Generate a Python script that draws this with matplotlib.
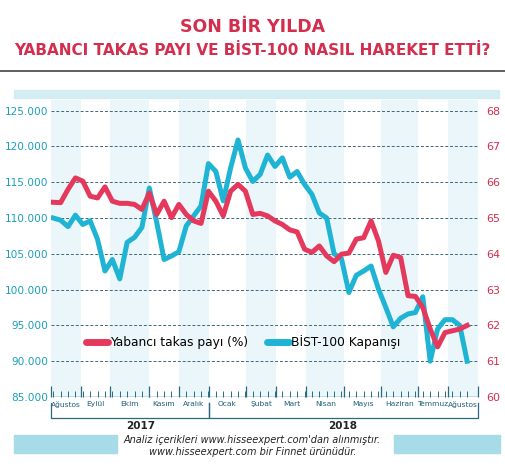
import matplotlib
matplotlib.use("Agg")
import matplotlib.pyplot as plt
import numpy as np
from matplotlib.lines import Line2D

plt.rcParams["font.family"] = ["DejaVu Sans"]

bist = [110000,109700,108800,110400,109100,109600,107000,102600,104200,101500,106600,107300,108700,114200,
        109400,104200,104700,105300,108900,110300,111700,117600,116500,112400,117000,120900,117000,115100,
        116100,118800,117200,118400,115700,116500,114700,113300,110700,110000,105000,104300,99600,102000,
        102600,103300,100100,97500,94800,96000,96600,96800,99000,90000,94500,95800,95800,95000,90000]
takas = [65.44,65.43,65.80,66.12,66.03,65.61,65.56,65.87,65.47,65.41,65.41,65.38,65.24,65.70,65.10,65.47,
         65.01,65.38,65.10,64.92,64.85,65.75,65.47,65.06,65.75,65.94,65.75,65.10,65.13,65.06,64.92,64.82,
         64.67,64.61,64.13,64.04,64.22,63.94,63.78,63.99,64.02,64.41,64.45,64.92,64.36,63.48,63.96,63.90,
         62.83,62.81,62.5,61.9,61.4,61.8,61.85,61.9,62.0]
months = ["Ağustos","Eylül","Ekim","Kasım","Aralık","Ocak","Şubat","Mart","Nisan","Mayıs","Haziran","Temmuz","Ağustos"]
month_bounds = [-0.3,3.74,7.66,12.93,17.0,21.05,26.1,30.2,34.25,39.4,44.4,49.3,53.4,57.5]
years = ["2017","2018"]
left_ticks = [85000,90000,95000,100000,105000,110000,115000,120000,125000]
right_ticks = [60,61,62,63,64,65,66,67,68]

BLUE = "#20b4d4"; RED = "#e4395c"; TEAL = "#1b9fba"; DRED = "#d42e4e"
n = len(bist)
x = np.arange(n)

fig = plt.figure(figsize=(5.05,4.69), dpi=100)
fig.patch.set_facecolor("white")
fig.text(0.5, 0.942, "SON BİR YILDA", ha="center", va="center", color=DRED, fontsize=12.5, fontweight="bold")
fig.text(0.5, 0.893, "YABANCI TAKAS PAYI VE BİST-100 NASIL HAREKET ETTİ?", ha="center", va="center",
         color=DRED, fontsize=11, fontweight="bold")
fig.add_artist(Line2D([0,1],[0.848,0.848], color="#444444", lw=1.2, transform=fig.transFigure))
fig.patches.append(plt.Rectangle((0.027,0.792),0.962,0.016, transform=fig.transFigure, color="#d4edf3", zorder=0))

ax = fig.add_axes([0.101,0.1535,0.846,0.6335])
ax.set_xlim(-0.3,57.5)
ax.set_ylim(85000,126500)
for i in range(0,len(month_bounds)-1,2):
    ax.axvspan(month_bounds[i], month_bounds[i+1], color="#eaf6fa", zorder=0, lw=0)
for t in left_ticks[1:]:
    ax.axhline(t, color="#3a6a7a", ls=(0,(3,2)), lw=0.7, zorder=1)
ax2 = ax.twinx()
ax2.set_ylim(60, 60+(126500-85000)/5000)
ax.plot(x, bist, color=BLUE, lw=3.6, zorder=3)
ax2.plot(x, takas, color=RED, lw=3.6, zorder=3)
for a in (ax, ax2):
    for s in a.spines.values(): s.set_visible(False)
ax.set_yticks(left_ticks)
ax.set_yticklabels([f"{v:,}".replace(",", ".") for v in left_ticks], color=TEAL, fontsize=7.6)
ax2.set_yticks(right_ticks)
ax2.set_yticklabels([str(v) for v in right_ticks], color=DRED, fontsize=8)
ax.tick_params(axis="y", length=0, pad=2)
ax2.tick_params(axis="y", length=0, pad=6)
ax.set_xticks(month_bounds)
ax.set_xticklabels([])
ax.set_xticks(x, minor=True)
ax.tick_params(axis="x", which="major", length=8, color="#2a6a80", direction="in", width=0.9)
ax.tick_params(axis="x", which="minor", length=4, color="#2a6a80", direction="in", width=0.7)
ax.axhline(85000, color="#2a6a80", lw=1, zorder=2)
for i, m in enumerate(months):
    ax.text((month_bounds[i]+month_bounds[i+1])/2, -0.015, m, transform=ax.get_xaxis_transform(),
            ha="center", va="top", fontsize=5.4, color="#1f5f7a")
tr = ax.get_xaxis_transform()
for (a0,a1) in [(month_bounds[0],month_bounds[5]),(month_bounds[5],month_bounds[-1])]:
    ax.plot([a0,a0,a1,a1],[-0.02,-0.07,-0.07,-0.02], transform=tr, color="#2a6a80", lw=0.9, clip_on=False)
ax.text(11.8,-0.08,years[0],transform=tr,ha="center",va="top",fontsize=7.5,fontweight="bold",color="#222")
ax.text(39.2,-0.08,years[1],transform=tr,ha="center",va="top",fontsize=7.5,fontweight="bold",color="#222")

h = [Line2D([],[],color=RED,lw=5,solid_capstyle="round"), Line2D([],[],color=BLUE,lw=5,solid_capstyle="round")]
leg = ax.legend(h, ["Yabancı takas payı (%)","BİST-100 Kapanışı"], loc="center", bbox_to_anchor=(0.45,0.185),
          ncol=2, frameon=False, fontsize=8.8, handlelength=1.8, columnspacing=1.5, handletextpad=0.2)
leg.set_zorder(5)

fig.patches.append(plt.Rectangle((0.027,0.035),0.205,0.038, transform=fig.transFigure, color="#a8dbe8", zorder=0))
fig.patches.append(plt.Rectangle((0.78,0.035),0.21,0.038, transform=fig.transFigure, color="#a8dbe8", zorder=0))
fig.text(0.5,0.062,"Analiz içerikleri www.hisseexpert.com'dan alınmıştır.",ha="center",va="center",
         fontsize=7,style="italic",color="#222")
fig.text(0.5,0.036,"www.hisseexpert.com bir Finnet ürünüdür.",ha="center",va="center",
         fontsize=7,style="italic",color="#222")
fig.savefig("out.png", dpi=100)
